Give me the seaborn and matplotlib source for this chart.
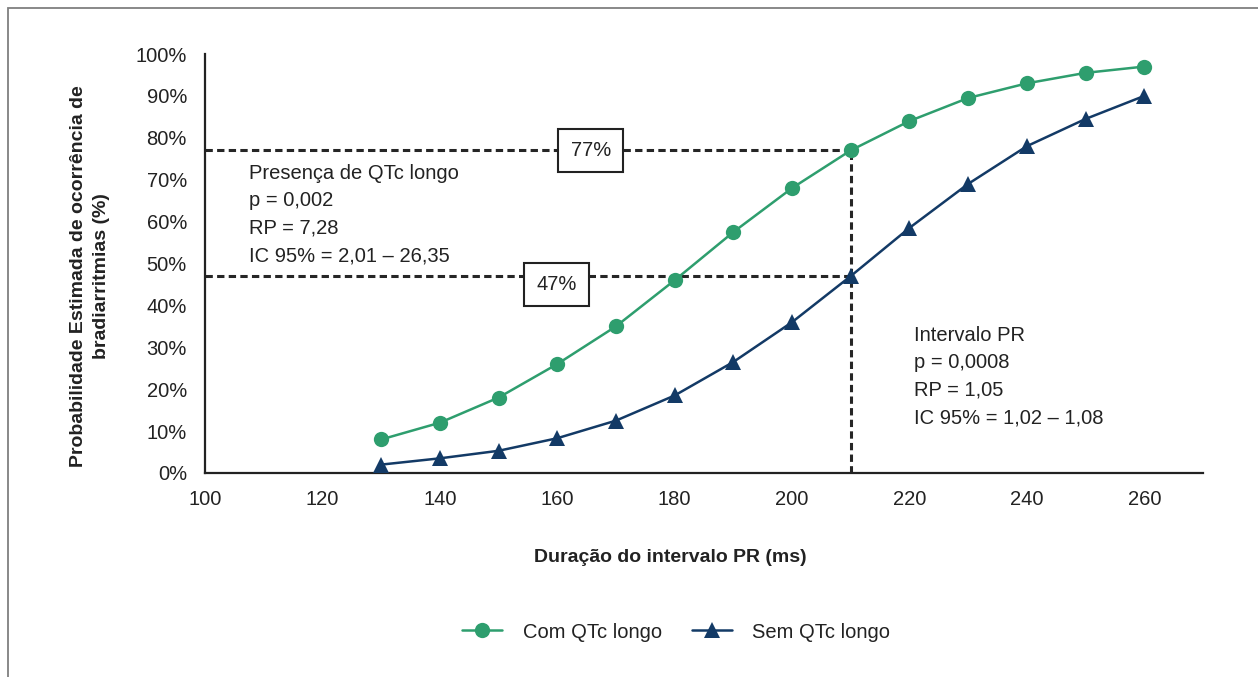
import matplotlib
matplotlib.use("Agg")
import matplotlib.pyplot as plt
import seaborn as sns
import pandas as pd
from matplotlib.patches import Rectangle
from matplotlib.lines import Line2D

# PR interval duration (ms)
pr_ms = [130, 140, 150, 160, 170, 180, 190, 200, 210, 220, 230, 240, 250, 260]
# Estimated probability (%) of bradyarrhythmia
com_qtc = [8, 12, 18, 26, 35, 46, 57.5, 68, 77, 84, 89.5, 93, 95.5, 97]
sem_qtc = [2, 3.5, 5.3, 8.3, 12.5, 18.5, 26.5, 36, 47, 58.5, 69, 78, 84.5, 90]
series_names = ["Com QTc longo", "Sem QTc longo"]
x_ticks = [100, 120, 140, 160, 180, 200, 220, 240, 260]
y_ticks = [0, 10, 20, 30, 40, 50, 60, 70, 80, 90, 100]
ref_x = 210
ref_levels = [77, 47]

GREEN = "#2E9E6E"
NAVY = "#133A66"
DASH = "#262626"
TXT = "#222222"
FS = 14.5
FS_LABEL = 14

sns.set_theme(style="white")
plt.rcParams["font.family"] = ["Liberation Sans", "DejaVu Sans"]

df = pd.DataFrame({
    "pr": pr_ms * 2,
    "prob": com_qtc + sem_qtc,
    "grupo": [series_names[0]] * len(pr_ms) + [series_names[1]] * len(pr_ms),
})

fig = plt.figure(figsize=(12.58, 6.77), dpi=100)
ax = fig.add_axes([205 / 1258, 1 - 473 / 677, (1203 - 205) / 1258, (473 - 54) / 677])

sns.lineplot(
    data=df, x="pr", y="prob", hue="grupo", style="grupo",
    palette=[GREEN, NAVY], markers=["o", "^"], dashes=False,
    markersize=11, linewidth=1.8, markeredgewidth=0, ax=ax, legend=False,
    zorder=3,
)

# reference guides at PR = 210 ms
guide = dict(color=DASH, lw=2.2, ls=(0, (2.4, 1.4)), zorder=2)
for lvl in ref_levels:
    ax.plot([100, ref_x], [lvl, lvl], **guide)
ax.plot([ref_x, ref_x], [0, ref_levels[0]], **guide)

box = dict(boxstyle="square,pad=0.6", fc="white", ec=TXT, lw=1.5)
ax.text(165.7, ref_levels[0], f"{ref_levels[0]}%", ha="center", va="center",
        fontsize=FS, color=TXT, bbox=box, zorder=4)
ax.text(159.9, ref_levels[1] - 2, f"{ref_levels[1]}%", ha="center", va="center",
        fontsize=FS, color=TXT, bbox=box, zorder=4)

ax.text(107.5, 73.8,
        "Presença de QTc longo\np = 0,002\nRP = 7,28\nIC 95% = 2,01 – 26,35",
        ha="left", va="top", fontsize=FS, color=TXT, linespacing=1.57)
ax.text(220.7, 35.2,
        "Intervalo PR\np = 0,0008\nRP = 1,05\nIC 95% = 1,02 – 1,08",
        ha="left", va="top", fontsize=FS, color=TXT, linespacing=1.57)

ax.set_xlim(100, 270)
ax.set_ylim(0, 100)
ax.set_xticks(x_ticks)
ax.set_yticks(y_ticks)
ax.set_yticklabels([f"{v}%" for v in y_ticks])
ax.tick_params(axis="both", direction="in", length=5, width=1.3, colors=TXT,
               labelsize=FS)
ax.tick_params(axis="y", pad=13)
ax.tick_params(axis="x", pad=12)
for s in ["top", "right"]:
    ax.spines[s].set_visible(False)
for s in ["left", "bottom"]:
    ax.spines[s].set_color(TXT)
    ax.spines[s].set_linewidth(1.6)

ax.set_xlabel("Duração do intervalo PR (ms)", fontsize=FS_LABEL, fontweight="bold",
              color=TXT, va="center")
ax.xaxis.set_label_coords((670 - 205) / 998, -(557 - 473) / 419)
ax.set_ylabel("Probabilidade Estimada de ocorrência de\nbradiarritmias (%)",
              fontsize=FS_LABEL, fontweight="bold", color=TXT, linespacing=1.42,
              va="center")
ax.yaxis.set_label_coords(-(205 - 90) / 998, (473 - 276) / 419)

handles = [
    Line2D([], [], color=GREEN, marker="o", markersize=11, markeredgewidth=0, lw=1.8),
    Line2D([], [], color=NAVY, marker="^", markersize=11, markeredgewidth=0, lw=1.8),
]
fig.legend(handles, series_names, loc="center", bbox_to_anchor=(0.5375, 1 - 632 / 677),
           ncol=2, frameon=False, fontsize=FS, handlelength=2.0, columnspacing=1.5,
           handletextpad=1.0, labelcolor=TXT)

# outer frame
fig.patches.append(Rectangle((8 / 1258, -0.05), 1.2, 1 - 8 / 677 + 0.05,
                             transform=fig.transFigure, fill=False,
                             ec="#7f7f7f", lw=1.3, zorder=0))

fig.savefig("out.png", dpi=100, facecolor="white")
